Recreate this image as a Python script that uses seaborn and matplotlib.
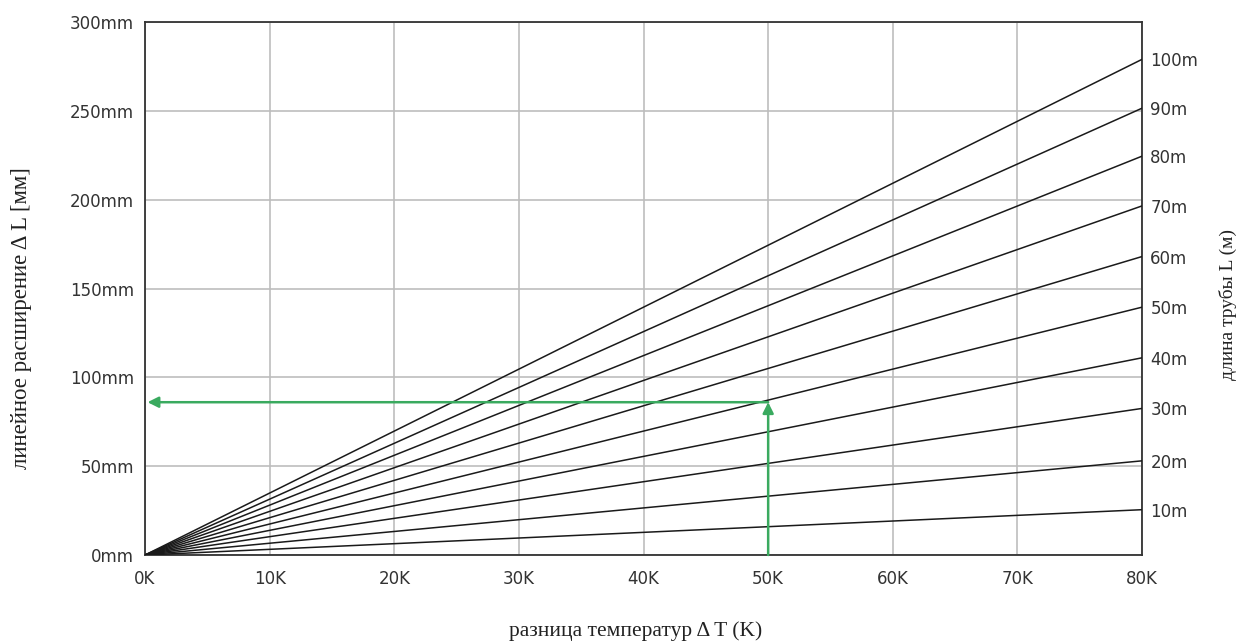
import matplotlib
matplotlib.use('Agg')
import matplotlib.pyplot as plt
import seaborn as sns
import pandas as pd

# pipe lengths (m) and the linear expansion read at dT = 80K (mm)
lengths = [10, 20, 30, 40, 50, 60, 70, 80, 90, 100]
expansion_at_80k = [25.5, 53, 82.5, 111, 139.5, 168, 196.5, 224.5, 251.5, 279]
length_labels = ['10m', '20m', '30m', '40m', '50m', '60m', '70m', '80m', '90m', '100m']

x_ticks = [0, 10, 20, 30, 40, 50, 60, 70, 80]
x_labels = ['0K', '10K', '20K', '30K', '40K', '50K', '60K', '70K', '80K']
y_ticks = [0, 50, 100, 150, 200, 250, 300]
y_labels = ['0mm', '50mm', '100mm', '150mm', '200mm', '250mm', '300mm']

# example reading: 30m pipe at dT = 50K
example_dt = 50
example_dl = 86

rows = []
for L, end in zip(lengths, expansion_at_80k):
    rows.append({'length': L, 'dT': 0, 'dL': 0})
    rows.append({'length': L, 'dT': 80, 'dL': end})
df = pd.DataFrame(rows)

sns.set_style('white')
plt.rcParams['font.family'] = ['DejaVu Sans']

fig = plt.figure(figsize=(12.45, 6.44), dpi=100)
ax = fig.add_axes([0.1165, 0.1382, 0.8008, 0.8276])

sns.lineplot(data=df, x='dT', y='dL', units='length', estimator=None,
             color='#1a1a1a', linewidth=1.1, ax=ax, zorder=3)

ax.set_xlim(0, 80)
ax.set_ylim(0, 300)
ax.set_xticks(x_ticks)
ax.set_xticklabels(x_labels, fontsize=12, color='#333333')
ax.set_yticks(y_ticks)
ax.set_yticklabels(y_labels, fontsize=12, color='#333333')
ax.tick_params(axis='both', length=0)
ax.tick_params(axis='x', pad=11)
ax.tick_params(axis='y', pad=8)
ax.grid(True, color='#bdbdbd', linewidth=1.2)
ax.set_xlabel('')
ax.set_ylabel('')
for s in ax.spines.values():
    s.set_color('#333333')
    s.set_linewidth(1.3)

# green example arrows
green = '#3aaa5f'
ax.annotate('', xy=(example_dt, example_dl), xytext=(example_dt, 0),
            arrowprops=dict(arrowstyle='-|>', color=green, lw=1.8,
                            mutation_scale=16, shrinkA=0, shrinkB=0), zorder=4)
ax.annotate('', xy=(0.2, example_dl), xytext=(example_dt, example_dl),
            arrowprops=dict(arrowstyle='-|>', color=green, lw=1.8,
                            mutation_scale=16, shrinkA=0, shrinkB=0), zorder=4)

# right side labels for pipe lengths
ax2 = ax.twinx()
ax2.set_ylim(0, 300)
ax2.set_yticks(expansion_at_80k)
ax2.set_yticklabels(length_labels, fontsize=12, color='#333333')
ax2.tick_params(axis='y', length=0, pad=6)
for s in ax2.spines.values():
    s.set_visible(False)

# axis titles
fig.text(636 / 1245, 1 - 631 / 644, 'разница температур Δ T (K)',
         family='Liberation Serif', fontsize=15.5, color='#222222',
         ha='center', va='center')
fig.text(22 / 1245, 1 - 318 / 644, 'линейное расширение Δ L [мм]',
         family='Liberation Serif', fontsize=16.5, color='#222222',
         ha='center', va='center', rotation=90)
fig.text(1228 / 1245, 1 - 305 / 644, 'длина трубы L (м)',
         family='Liberation Serif', fontsize=14, color='#222222',
         ha='center', va='center', rotation=90)

fig.savefig('out.png', dpi=100)
